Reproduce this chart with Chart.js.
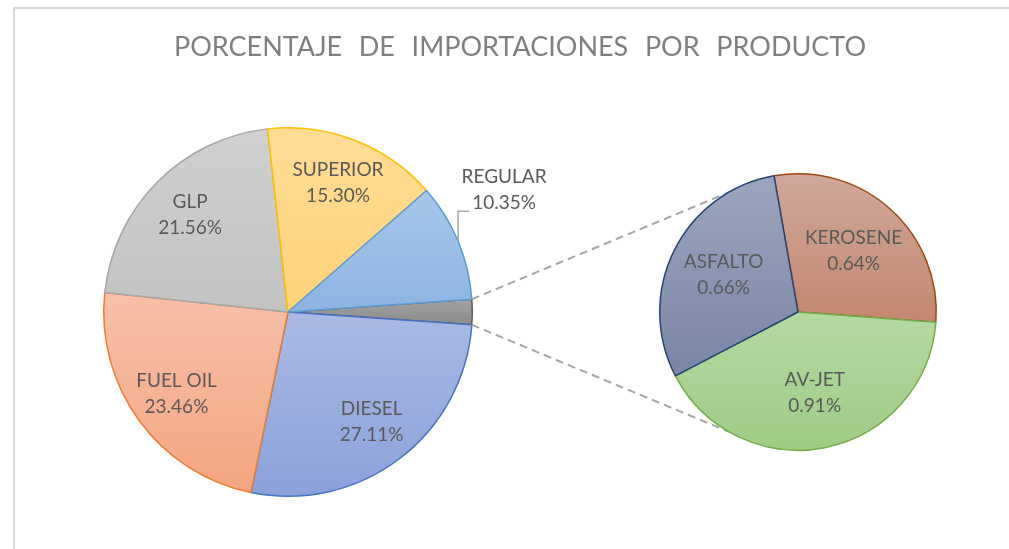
<!DOCTYPE html>
<html>
<head>
<meta charset="utf-8">
<script src="https://cdn.jsdelivr.net/npm/chart.js@4.4.1/dist/chart.umd.min.js"></script>
<style>
  html, body { margin: 0; padding: 0; background: #fff; }
  #wrap { position: relative; width: 1009px; height: 549px; overflow: hidden; }
  #frame { position: absolute; left: 13px; top: 7px; width: 1100px; height: 600px;
           border: 2px solid #D9D9D9; box-sizing: border-box; }
  canvas { position: absolute; left: 0; top: 0; }
</style>
</head>
<body>
<div id="wrap">
  <div id="frame"></div>
  <canvas id="mainPie" width="1009" height="549"></canvas>
  <canvas id="subPie" width="1009" height="549"></canvas>
</div>
<script>
// data
const chartTitle = "PORCENTAJE DE IMPORTACIONES POR PRODUCTO";
const mainLabels = ["OTROS", "DIESEL", "FUEL OIL", "GLP", "SUPERIOR", "REGULAR"];
const mainValues = [2.21, 27.11, 23.46, 21.56, 15.30, 10.35];
const subLabels = ["KEROSENE", "AV-JET", "ASFALTO"];
const subValues = [0.64, 0.91, 0.66];

// colours
const mainTop = ["#A3A3A3", "#AABAE4", "#F8C0A8", "#D0D0D0", "#FFDC95", "#A7C7EA"];
const mainBottom = ["#8A8A8A", "#8CA1DA", "#F4A582", "#C3C3C3", "#FFD27A", "#8DB4E2"];
const mainBorder = ["#5A5A5A", "#4472C4", "#ED7D31", "#A5A5A5", "#FFC000", "#5B9BD5"];
const subTop = ["#D0A89C", "#B6D9A3", "#9DA6BF"];
const subBottom = ["#C3876F", "#9FCB84", "#7A84A4"];
const subBorder = ["#9E480E", "#70AD47", "#264478"];

const textColor = "#595959";
const labelFont = "19px Lato";

const mainTotal = mainValues.reduce((s, v) => s + v, 0);
// centre the "other" slice on the right side, as excel does
const mainRotation = 90 - (mainValues[0] / mainTotal) * 180;
const subRotation = -10;

function sliceGradient(chart, values, rotationDeg, i, top, bottom) {
  const a = chart.chartArea;
  if (!a) return top;
  const cx = (a.left + a.right) / 2, cy = (a.top + a.bottom) / 2;
  const r = Math.min(a.right - a.left, a.bottom - a.top) / 2;
  const total = values.reduce((s, v) => s + v, 0);
  let start = (rotationDeg - 90) * Math.PI / 180;
  for (let k = 0; k < i; k++) start += values[k] / total * 2 * Math.PI;
  const end = start + values[i] / total * 2 * Math.PI;
  const ys = [cy, cy + r * Math.sin(start), cy + r * Math.sin(end)];
  for (const ext of [-Math.PI / 2, Math.PI / 2]) {
    for (let n = -2; n <= 3; n++) {
      const t = ext + n * 2 * Math.PI;
      if (t >= start && t <= end) ys.push(cy + r * Math.sin(t));
    }
  }
  const g = chart.ctx.createLinearGradient(0, Math.min(...ys), 0, Math.max(...ys));
  g.addColorStop(0, top);
  g.addColorStop(1, bottom);
  return g;
}

function drawLabel(ctx, lines, x, y) {
  ctx.fillStyle = textColor;
  ctx.font = labelFont;
  ctx.textAlign = "center";
  ctx.textBaseline = "middle";
  ctx.fillText(lines[0], x, y - 13);
  ctx.fillText(lines[1], x, y + 13);
}

const mainLabelsPlugin = {
  id: "mainLabels",
  afterDatasetsDraw(chart) {
    const ctx = chart.ctx;
    ctx.save();
    // title, words spread like the original
    ctx.font = "27px Lato";
    ctx.fillStyle = "#7F7F7F";
    ctx.textAlign = "left";
    ctx.textBaseline = "alphabetic";
    const words = chartTitle.split(" ");
    const widths = words.map(w => ctx.measureText(w).width);
    const totalW = 692;
    const gap = (totalW - widths.reduce((s, w) => s + w, 0)) / (words.length - 1);
    let tx = 174;
    words.forEach((w, i) => { ctx.fillText(w, tx, 56); tx += widths[i] + gap; });

    const arcs = chart.getDatasetMeta(0).data;
    arcs.forEach((arc, i) => {
      if (i === 0) return;
      const p = arc.getProps(["x", "y", "startAngle", "endAngle", "outerRadius"], true);
      const mid = (p.startAngle + p.endAngle) / 2;
      const txt = [mainLabels[i], mainValues[i].toFixed(2) + "%"];
      if (mainLabels[i] === "REGULAR") {
        const ex = p.x + p.outerRadius * Math.cos(mid);
        const ey = p.y + p.outerRadius * Math.sin(mid);
        ctx.strokeStyle = "#A6A6A6";
        ctx.lineWidth = 1.5;
        ctx.beginPath();
        ctx.moveTo(ex, ey);
        ctx.lineTo(ex, ey - 30);
        ctx.lineTo(ex + 11, ey - 30);
        ctx.stroke();
        drawLabel(ctx, txt, ex + 46, ey - 51);
      } else {
        const rr = p.outerRadius * 0.75;
        drawLabel(ctx, txt, p.x + rr * Math.cos(mid), p.y + rr * Math.sin(mid));
      }
    });
    ctx.restore();
  }
};

const mainChart = new Chart(document.getElementById("mainPie").getContext("2d"), {
  type: "pie",
  data: {
    labels: mainLabels,
    datasets: [{
      data: mainValues,
      backgroundColor: (c) => sliceGradient(c.chart, mainValues, mainRotation, c.dataIndex,
        mainTop[c.dataIndex], mainBottom[c.dataIndex]),
      borderColor: mainBorder,
      borderWidth: 1.5,
    }],
  },
  options: {
    responsive: false,
    animation: false,
    events: [],
    rotation: mainRotation,
    layout: { padding: { left: 103, right: 536, top: 127, bottom: 52 } },
    plugins: { legend: { display: false }, tooltip: { enabled: false } },
  },
  plugins: [mainLabelsPlugin],
});

const subLabelsPlugin = {
  id: "subLabels",
  beforeDatasetsDraw(chart) {
    // dashed connectors from the "other" slice to the second pie
    const ctx = chart.ctx;
    const o = mainChart.getDatasetMeta(0).data[0]
      .getProps(["x", "y", "startAngle", "endAngle", "outerRadius"], true);
    const s = chart.getDatasetMeta(0).data[0].getProps(["x", "y", "outerRadius"], true);
    const a1 = -120 * Math.PI / 180, a2 = 120 * Math.PI / 180;
    ctx.save();
    ctx.strokeStyle = "#A6A6A6";
    ctx.lineWidth = 2;
    ctx.setLineDash([8, 5]);
    ctx.beginPath();
    ctx.moveTo(o.x + o.outerRadius * Math.cos(o.startAngle), o.y + o.outerRadius * Math.sin(o.startAngle));
    ctx.lineTo(s.x + s.outerRadius * Math.cos(a1), s.y + s.outerRadius * Math.sin(a1));
    ctx.moveTo(o.x + o.outerRadius * Math.cos(o.endAngle), o.y + o.outerRadius * Math.sin(o.endAngle));
    ctx.lineTo(s.x + s.outerRadius * Math.cos(a2), s.y + s.outerRadius * Math.sin(a2));
    ctx.stroke();
    ctx.restore();
  },
  afterDatasetsDraw(chart) {
    const ctx = chart.ctx;
    ctx.save();
    chart.getDatasetMeta(0).data.forEach((arc, i) => {
      const p = arc.getProps(["x", "y", "startAngle", "endAngle", "outerRadius"], true);
      const mid = (p.startAngle + p.endAngle) / 2;
      const rr = p.outerRadius * 0.6;
      drawLabel(ctx, [subLabels[i], subValues[i].toFixed(2) + "%"],
        p.x + rr * Math.cos(mid), p.y + rr * Math.sin(mid));
    });
    ctx.restore();
  }
};

new Chart(document.getElementById("subPie").getContext("2d"), {
  type: "pie",
  data: {
    labels: subLabels,
    datasets: [{
      data: subValues,
      backgroundColor: (c) => sliceGradient(c.chart, subValues, subRotation, c.dataIndex,
        subTop[c.dataIndex], subBottom[c.dataIndex]),
      borderColor: subBorder,
      borderWidth: 1.5,
    }],
  },
  options: {
    responsive: false,
    animation: false,
    events: [],
    rotation: subRotation,
    layout: { padding: { left: 659, right: 72, top: 173, bottom: 98 } },
    plugins: { legend: { display: false }, tooltip: { enabled: false } },
  },
  plugins: [subLabelsPlugin],
});
</script>
</body>
</html>
